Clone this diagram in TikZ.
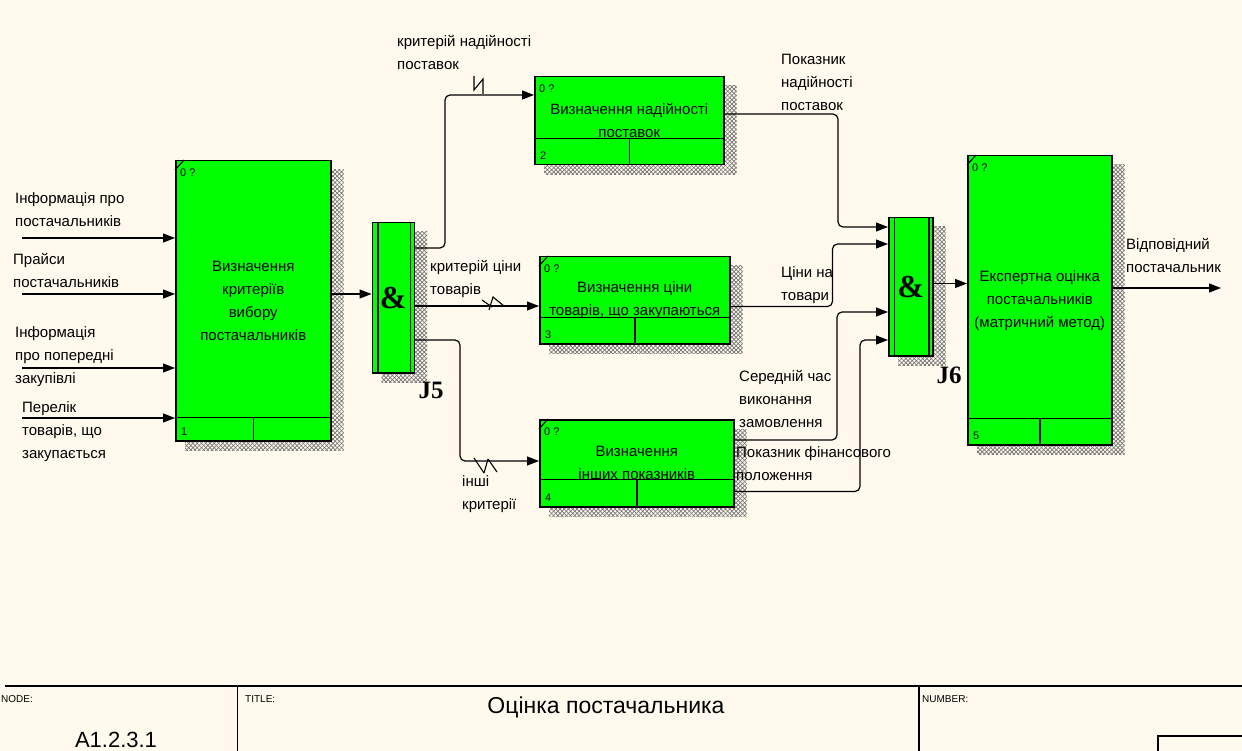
\documentclass[tikz,border=0pt]{standalone}
\usepackage{fontspec}
\setmainfont{Liberation Sans}
\newfontfamily\jfont{Liberation Serif}
\usetikzlibrary{arrows.meta,calc,patterns,patterns.meta,backgrounds}

\definecolor{paper}{HTML}{FFF9EE}
\definecolor{boxgreen}{HTML}{00FF00}

\begin{document}
\begin{tikzpicture}[x=1pt,y=-1pt,
  fbox/.style={draw=black,line width=1.5pt,fill=boxgreen,inner sep=0pt,anchor=north west,
    font=\fontsize{15}{23}\selectfont,align=center},
  jbox/.style={draw=black,line width=1.5pt,fill=boxgreen,inner sep=0pt,anchor=north west,
    font=\jfont\bfseries\fontsize{32}{32}\selectfont},
  jlabel/.style={font=\jfont\bfseries\fontsize{25}{25}\selectfont,inner sep=0pt},
  lbl/.style={font=\fontsize{15}{23}\selectfont,align=left,anchor=west,inner sep=0pt},
  small/.style={font=\fontsize{11}{13}\selectfont,inner sep=0pt,anchor=west},
  framelbl/.style={font=\fontsize{10}{12}\selectfont,inner sep=0pt,anchor=west},
  arr/.style={line width=1.2pt,-{Triangle[length=12pt,width=9pt]},rounded corners=5pt},
  thin/.style={line width=1.1pt},
  hatchA/.style={pattern={Lines[angle=45,distance=3pt,line width=0.7pt]},pattern color=black!55},
  hatchB/.style={pattern={Lines[angle=-45,distance=3pt,line width=0.7pt]},pattern color=black!55},
  divider/.style={line width=1.5pt},
  frameline/.style={line width=1.8pt},
]
\useasboundingbox (0,0) rectangle (1242,751);
\clip (0,0) rectangle (1242,751);

% ---------- activity boxes ----------
\node[fbox,minimum width=155,minimum height=280] (b1) at (175,160)
  {Визначення\\критеріїв\\вибору\\постачальників};
\node[fbox,minimum width=189,minimum height=88] (b2) at (534,76)
  {Визначення надійності\\поставок};
\node[fbox,minimum width=190,minimum height=87] (b3) at (539,256)
  {Визначення ціни\\товарів, що закупаються};
\node[fbox,minimum width=194,minimum height=87] (b4) at (539,419)
  {Визначення\\інших показників};
\node[fbox,minimum width=144,minimum height=289] (b5) at (967,155)
  {Експертна оцінка\\постачальників\\(матричний метод)};

% ---------- junctions ----------
\node[jbox,minimum width=42,minimum height=150] (j5) at (371.5,222) {\&};
\node[jbox,minimum width=44,minimum height=138] (j6) at (888,217) {\&};
\node[jlabel] (j5lab) at (431,390) {J5};
\node[jlabel] (j6lab) at (949,375) {J6};

% ---------- paper and drop shadows ----------
\begin{pgfonlayer}{background}
  \fill[paper] (0,0) rectangle (1242,751);
  \foreach \n in {b1,b2,b3,b4,b5,j5,j6}{
    \path[hatchA] ($(\n.north west)+(10,10)$) rectangle ($(\n.south east)+(12,9)$);
    \path[hatchB] ($(\n.north west)+(10,10)$) rectangle ($(\n.south east)+(12,9)$);
  }
\end{pgfonlayer}

% ---------- box decorations: corner ticks, footer strips, numbers ----------
\foreach \n/\k/\h/\tick in {b1/1/24/1,b2/2/27/0,b3/3/27/1,b4/4/28/1,b5/5/27/1}{
  \draw[divider] ($(\n.south west)+(0,-\h)$) -- ($(\n.south east)+(0,-\h)$);
  \draw[divider] ($(\n.south)+(0,-\h)$) -- (\n.south);
  \ifnum\tick=1
    \draw[thin] ($(\n.north west)+(0,10)$) -- ($(\n.north west)+(9,0)$);
  \fi
  \node[small] at ($(\n.north west)+(5,13)$) {0 ?};
  \node[small] at ($(\n.south west)+(6,-10)$) {\k};
}

% junction inner bars
\foreach \n in {j5,j6}{
  \draw[divider] ($(\n.north west)+(6.5,0)$) -- ($(\n.south west)+(6.5,0)$);
  \draw[divider] ($(\n.north east)+(-4.5,0)$) -- ($(\n.south east)+(-4.5,0)$);
}

% ---------- inputs to box 1 ----------
\coordinate (in1) at (22,238);
\coordinate (in2) at (22,294);
\coordinate (in3) at (22,368);
\coordinate (in4) at (22,418);
\foreach \c in {in1,in2,in3,in4}
  \draw[arr] (\c) -- (b1.west |- \c);

\node[lbl] (l1) at (15,210) {Інформація про\\постачальників};
\node[lbl] (l2) at (13,270.5) {Прайси\\постачальників};
\node[lbl] (l3) at (15,356.5) {Інформація\\про попередні\\закупівлі};
\node[lbl] (l4) at (22,432) {Перелік\\товарів, що\\закупається};

% ---------- box 1 to J5 ----------
\draw[arr] (b1.east |- 0,294) -- (j5.west |- 0,294);

% ---------- J5 fan-out ----------
\draw[arr] (j5.east |- 0,248) -| (445,95) -- (b2.west |- 0,95);
\draw[arr] (j5.east |- 0,306) -- (b3.west |- 0,306);
\draw[arr] (j5.east |- 0,340) -| (460,461) -- (b4.west |- 0,461);

% tunnel marks
\draw[thin] (474,76) -- (474,90) -- (483,79) -- (483,94);
\draw[thin] (482,300) -- (492,307);
\draw[thin] (489,310) -- (493,297) -- (504,306);
\draw[thin] (474,458) -- (484,473);
\draw[thin] (484,473) -- (488,459);
\draw[thin] (488,459) -- (497,472);

\node[lbl] (lc1) at (397,52.5) {критерій надійності\\поставок};
\node[lbl] (lc2) at (430,279) {критерій ціни\\товарів};
\node[lbl] (lc3) at (462,494) {інші\\критерії};

% ---------- results into J6 ----------
\draw[arr] (b2.east |- 0,114) -| (838,227) -- (j6.west |- 0,227);
\draw[arr] (b3.east |- 0,306.5) -| (832.5,244) -- (j6.west |- 0,244);
\draw[arr] (b4.east |- 0,440) -| (837,312) -- (j6.west |- 0,312);
\draw[arr] (b4.east |- 0,491.5) -| (860,340) -- (j6.west |- 0,340);

\node[lbl] (lr1) at (781,82.5) {Показник\\надійності\\поставок};
\node[lbl] (lr2) at (781,285) {Ціни на\\товари};
\node[lbl] (lr3) at (739,399) {Середній час\\виконання\\замовлення};
\node[lbl] (lr4) at (736,464) {Показник фінансового\\положення};

% ---------- J6 to box 5 and final output ----------
\draw[arr] (j6.east |- 0,283.5) -- (b5.west |- 0,283.5);
\coordinate (out) at (1221,288);
\draw[arr] (b5.east |- out) -- (out);
\node[lbl] (lo) at (1126,256) {Відповідний\\постачальник};

% ---------- title block ----------
\coordinate (fl) at (5,686);
\coordinate (fr) at (1242,686);
\draw[frameline] (fl) -- (fr);
\draw[frameline] (237.5,686) -- (237.5,751);
\draw[frameline] (919,686) -- (919,751);
\draw[frameline] (1158,751) -- (1158,736) -- (1242,736);
\node[framelbl] (tnode) at (1,699) {NODE:};
\node[framelbl] (ttitle) at (245,699) {TITLE:};
\node[framelbl] (tnum) at (922,699) {NUMBER:};
\node[font=\fontsize{22}{22}\selectfont,inner sep=0pt] (tid) at (116,740) {A1.2.3.1};
\node[font=\fontsize{23}{23}\selectfont,inner sep=0pt] (tname) at (606,707) {Оцінка постачальника};
\end{tikzpicture}
\end{document}
